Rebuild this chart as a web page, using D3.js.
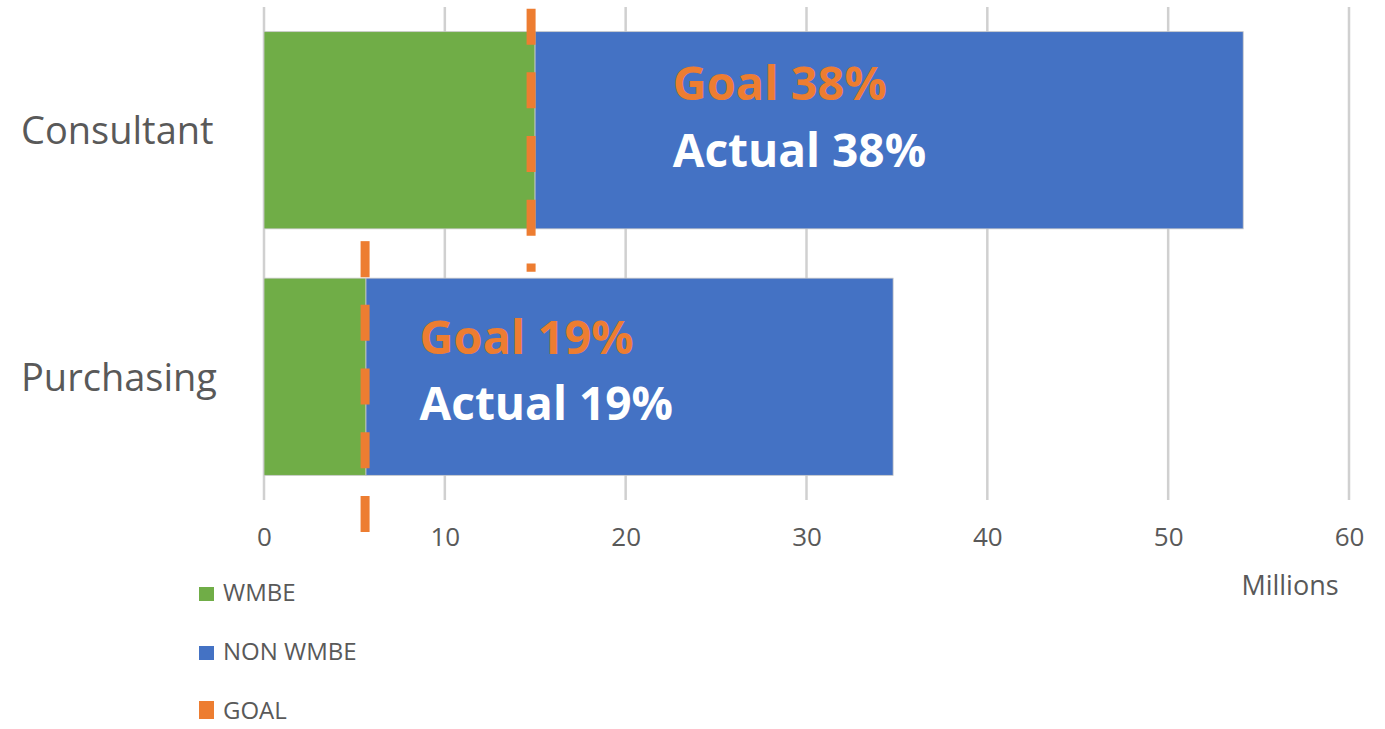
<!DOCTYPE html>
<html>
<head>
<meta charset="utf-8">
<script src="https://cdn.jsdelivr.net/npm/d3@7"></script>
<style>
  html, body { margin: 0; padding: 0; background: #ffffff; }
  svg { display: block; }
  text { font-family: "Open Sans", "Noto Sans", sans-serif; }
</style>
</head>
<body>
<svg id="chart" width="1385" height="729"></svg>
<script>
// ---- data (millions) ----
const categories = ["Consultant", "Purchasing"];
const wmbeValues = [14.99, 5.64];
const nonWmbeValues = [39.16, 29.15];
const goalValues = [14.77, 5.59];
const goalLabels = ["Goal 38%", "Goal 19%"];
const actualLabels = ["Actual 38%", "Actual 19%"];
const labelAnchorValues = [22.6, 8.6];
const xTicks = [0, 10, 20, 30, 40, 50, 60];
const seriesNames = ["WMBE", "NON WMBE", "GOAL"];
const seriesColors = ["#70AD47", "#4472C4", "#ED7D31"];

// ---- layout ----
const svg = d3.select("#chart");
const x = d3.scaleLinear().domain([0, 60]).range([264, 1349]);
const y = d3.scaleBand().domain(categories).range([7, 500]).paddingInner(0.2).paddingOuter(0.1);

// gridlines
svg.append("g").selectAll("line").data(xTicks).join("line")
  .attr("x1", d => x(d)).attr("x2", d => x(d))
  .attr("y1", 7).attr("y2", 500)
  .attr("stroke", "#d0d0d0").attr("stroke-width", 2.5);

// axis labels
const xAxis = d3.axisBottom(x).tickValues(xTicks).tickSize(0).tickPadding(0);
const ax = svg.append("g").attr("transform", "translate(0,528)").call(xAxis);
ax.select(".domain").remove();
ax.selectAll("text").attr("font-size", 26).attr("fill", "#595959")
  .attr("dy", "0.71em").attr("font-family", "'Open Sans', sans-serif");

// category labels
svg.append("g").selectAll("text").data(categories).join("text")
  .attr("x", 21).attr("y", d => y(d) + y.bandwidth() / 2 + 14)
  .attr("font-size", 38).attr("fill", "#595959")
  .text(d => d);

// bars
const rows = categories.map((c, i) => ({ c, w: wmbeValues[i], n: nonWmbeValues[i], g: goalValues[i], i }));
const bars = svg.append("g");
bars.selectAll("rect.w").data(rows).join("rect").attr("class", "w")
  .attr("x", x(0)).attr("y", d => y(d.c))
  .attr("width", d => x(d.w) - x(0)).attr("height", y.bandwidth())
  .attr("fill", seriesColors[0]).attr("stroke", "#c9c9c9").attr("stroke-width", 0.8);
bars.selectAll("rect.n").data(rows).join("rect").attr("class", "n")
  .attr("x", d => x(d.w)).attr("y", d => y(d.c))
  .attr("width", d => x(d.w + d.n) - x(d.w)).attr("height", y.bandwidth())
  .attr("fill", seriesColors[1]).attr("stroke", "#c9c9c9").attr("stroke-width", 0.8);

// goal dashed lines
const goalExtent = [[-23, 43], [-37, 57]];
svg.append("g").selectAll("line").data(rows).join("line")
  .attr("x1", d => x(d.g)).attr("x2", d => x(d.g))
  .attr("y1", d => y(d.c) + goalExtent[d.i][0])
  .attr("y2", d => y(d.c) + y.bandwidth() + goalExtent[d.i][1])
  .attr("stroke", seriesColors[2]).attr("stroke-width", 9)
  .attr("stroke-dasharray", "36 27.7");

// annotation labels
const labOff = [[68, 135], [76, 142]];
const ann = svg.append("g");
ann.selectAll("text.g").data(rows).join("text").attr("class", "g")
  .attr("x", d => x(labelAnchorValues[d.i])).attr("y", d => y(d.c) + labOff[d.i][0])
  .attr("font-size", 47).attr("font-weight", 700).attr("fill", seriesColors[2])
  .text(d => goalLabels[d.i]);
ann.selectAll("text.a").data(rows).join("text").attr("class", "a")
  .attr("x", d => x(labelAnchorValues[d.i])).attr("y", d => y(d.c) + labOff[d.i][1])
  .attr("font-size", 46).attr("font-weight", 700).attr("fill", "#ffffff")
  .text(d => actualLabels[d.i]);

// x axis title
svg.append("text").attr("x", 1290).attr("y", 595).attr("text-anchor", "middle")
  .attr("font-size", 27).attr("fill", "#595959").text("Millions");

// legend
const leg = svg.append("g").selectAll("g").data(seriesNames).join("g")
  .attr("transform", (d, i) => `translate(199,${601 + i * 59})`);
leg.append("rect").attr("x", 0).attr("y", (d, i) => i === 2 ? -18 : -14).attr("width", 15)
  .attr("height", (d, i) => i === 2 ? 18 : 14)
  .attr("fill", (d, i) => seriesColors[i]);
leg.append("text").attr("x", 24).attr("y", 0).attr("font-size", 24).attr("fill", "#595959")
  .text(d => d);
</script>
</body>
</html>
